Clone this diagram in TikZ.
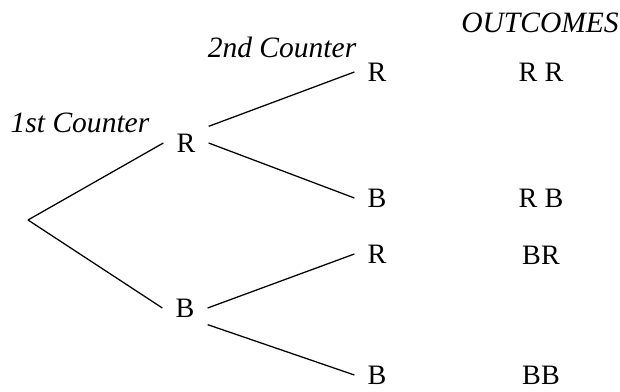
\documentclass[tikz,border=0pt]{standalone}
\usepackage{fontspec}
\setmainfont{Liberation Serif}
\begin{document}
\begin{tikzpicture}[x=0.025cm,y=-0.025cm,line width=0.9pt,
        lbl/.style={minimum width=1.1cm,minimum height=0.8cm,inner sep=0pt,font=\fontsize{20}{22}\selectfont},
        head/.style={font=\fontsize{21}{23}\selectfont\itshape}]
        \useasboundingbox (0,0) rectangle (620,392);
        \coordinate (root) at (28,220);
        \node[lbl] (r1) at (186,143) {R};
        \node[lbl] (b1) at (185,308) {B};
        \node[lbl] (rr) at (377,72) {R};
        \node[lbl] (rb) at (377,198) {B};
        \node[lbl] (br) at (377,254) {R};
        \node[lbl] (bb) at (377,375) {B};

        \node[lbl] (orr) at (541,72) {R R};
        \node[lbl] (orb) at (541,198) {R B};
        \node[lbl] (obr) at (541,255) {BR};
        \node[lbl] (obb) at (541,375) {BB};

        \node[head] (first) at (80,123) {1st Counter};
        \node[head] (second) at (282,47) {2nd Counter};
        \node[head] (outc) at (540,23) {OUTCOMES};

        \draw (root) -- (r1.west);
        \draw (root) -- (b1.west);
        \draw (r1.north east) -- (rr.west);
        \draw (r1.east) -- (rb.west);
        \draw (b1.east) -- (br.west);
        \draw (b1.south east) -- (bb.west);
    \end{tikzpicture}
\end{document}
